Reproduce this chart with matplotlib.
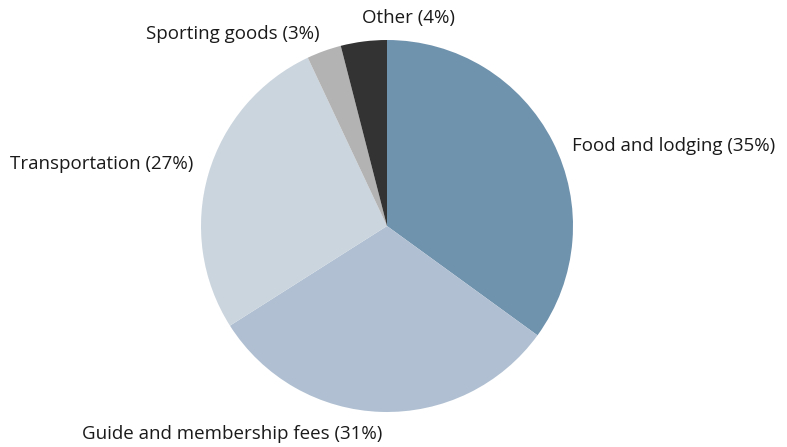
import matplotlib.pyplot as plt

categories = ["Food and lodging", "Guide and membership fees", "Transportation",
              "Sporting goods", "Other"]
shares = [35, 31, 27, 3, 4]
colors = ["#6f92ad", "#b0c0d2", "#cbd5de", "#b3b3b3", "#333333"]

plt.rcParams["font.family"] = ["Open Sans", "DejaVu Sans"]

fig = plt.figure(figsize=(7.87, 4.47), dpi=100)
# pie centre at (387, 226) px, radius 186 px
ax = fig.add_axes([201 / 787, 35 / 447, 372 / 787, 372 / 447])

labels = [f"{c} ({s}%)" for c, s in zip(categories, shares)]
wedges, texts = ax.pie(shares, colors=colors, startangle=90, counterclock=False,
                       labels=labels, labeldistance=1.1,
                       wedgeprops=dict(linewidth=0),
                       textprops=dict(fontsize=13.5, color="#1a1a1a"))

# hand placed label spots (data units, radius = 1)
spots = [(0.995, 0.43, "left"), (-0.83, -1.12, "center"), (-1.04, 0.333, "right"),
         (-0.36, 1.03, "right"), (0.113, 1.12, "center")]
for t, (x, y, ha) in zip(texts, spots):
    t.set_position((x, y))
    t.set_ha(ha)
    t.set_va("center")

ax.set_xlim(-1, 1)
ax.set_ylim(-1, 1)
ax.set_aspect("equal")

fig.savefig("out.png", dpi=100)
